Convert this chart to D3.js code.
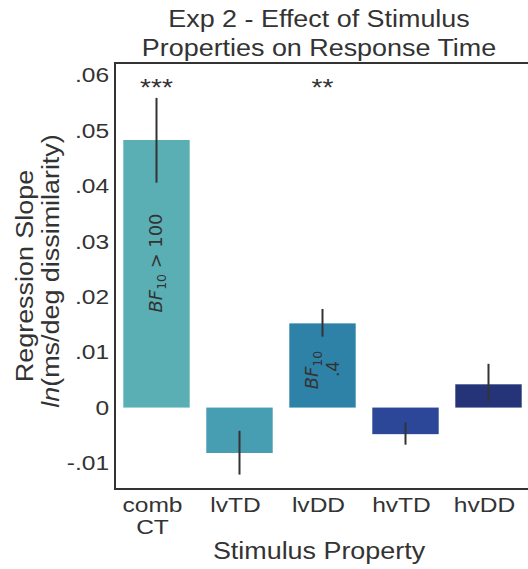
<!DOCTYPE html>
<html>
<head>
<meta charset="utf-8">
<script src="https://cdn.jsdelivr.net/npm/d3@7"></script>
<style>
  html, body { margin: 0; padding: 0; background: #fff; }
  svg { display: block; font-family: "Liberation Sans", Arial, sans-serif; }
</style>
</head>
<body>
<svg id="chart" width="528" height="569"></svg>
<script>
// ---- data ----
const categories = ["comb CT", "lvTD", "lvDD", "hvTD", "hvDD"];
const slopes = [0.0483, -0.0082, 0.0152, -0.0048, 0.0042];
const errTop = [0.0559, -0.0042, 0.0178, -0.0027, 0.0079];
const errBottom = [0.0406, -0.0121, 0.0128, -0.0067, 0.0011];
const barColors = ["#5aafb5", "#479db2", "#2e82a8", "#2c4797", "#253479"];
const significance = ["***", "", "**", "", ""];
const yTicks = [-0.01, 0, 0.01, 0.02, 0.03, 0.04, 0.05, 0.06];
const yTickLabels = ["-.01", "0", ".01", ".02", ".03", ".04", ".05", ".06"];

const svg = d3.select("#chart");
const mLeft = 115, mRight = 530, mTop = 63, mBottom = 489;
const ink = "#333";
const SX = 1.17; // horizontal stretch of the reference's lettering

function hText(parent, x0, y0, size, anchor) {
  return parent.append("text")
    .attr("transform", `translate(${x0},${y0}) scale(${SX},1)`)
    .attr("text-anchor", anchor || "middle")
    .attr("font-size", size)
    .attr("fill", ink);
}

const x = d3.scaleBand().domain(categories).range([mLeft, mRight]).paddingInner(0.2).paddingOuter(0.1);
const y = d3.scaleLinear().domain([-0.0147, 0.0622]).range([mBottom, mTop]);

// bars
svg.append("g").selectAll("rect").data(categories).join("rect")
  .attr("x", d => x(d))
  .attr("width", x.bandwidth())
  .attr("y", (d, i) => y(Math.max(0, slopes[i])))
  .attr("height", (d, i) => Math.abs(y(slopes[i]) - y(0)))
  .attr("fill", (d, i) => barColors[i]);

// error bars
svg.append("g").selectAll("line").data(categories).join("line")
  .attr("x1", d => x(d) + x.bandwidth() / 2)
  .attr("x2", d => x(d) + x.bandwidth() / 2)
  .attr("y1", (d, i) => y(errTop[i]))
  .attr("y2", (d, i) => y(errBottom[i]))
  .attr("stroke", ink).attr("stroke-width", 2);

// significance stars
const sg = svg.append("g");
categories.forEach((c, i) => {
  if (significance[i]) hText(sg, x(c) + x.bandwidth() / 2, 96, 24).text(significance[i]);
});

// y axis
const yAxis = d3.axisLeft(y).tickValues(yTicks).tickSize(0).tickPadding(5)
  .tickFormat((d, i) => yTickLabels[i]);
const gy = svg.append("g").attr("transform", `translate(${mLeft},0)`).call(yAxis);
gy.select(".domain").remove();
gy.selectAll("text").attr("font-size", 21).attr("fill", ink)
  .attr("font-family", "Liberation Sans, Arial, sans-serif")
  .attr("transform", `scale(${SX},1)`);

// frame
svg.append("path")
  .attr("d", `M${mRight},${mTop}H${mLeft}V${mBottom}H${mRight}`)
  .attr("fill", "none").attr("stroke", ink).attr("stroke-width", 2);

// x tick labels
const xl = svg.append("g");
categories.forEach(c => {
  const cx = x(c) + x.bandwidth() / 2 - 4;
  const t = hText(xl, cx, 512, 21);
  c.split(" ").forEach((part, j) => {
    t.append("tspan").attr("x", 0).attr("dy", j === 0 ? 0 : 22).text(part);
  });
});

// x axis title
hText(svg, 319, 559, 23).text("Stimulus Property");

// title
hText(svg, 319, 27, 23).text("Exp 2 - Effect of Stimulus");
hText(svg, 319, 56, 23).text("Properties on Response Time");

// y axis title
svg.append("text").attr("transform", `translate(33,276) rotate(-90) scale(${SX},1)`)
  .attr("text-anchor", "middle").attr("font-size", 23).attr("fill", ink).text("Regression Slope");
const yt2 = svg.append("text").attr("transform", `translate(59,271) rotate(-90) scale(${SX},1)`)
  .attr("text-anchor", "middle").attr("font-size", 23).attr("fill", ink);
yt2.append("tspan").attr("font-style", "italic").text("ln");
yt2.append("tspan").text("(ms/deg dissimilarity)");

// Bayes factor annotations
function bf(g, xc, yc, suffix, size) {
  const t = g.append("text").attr("transform", `translate(${xc},${yc}) rotate(-90) scale(1.05,1)`)
    .attr("text-anchor", "middle").attr("font-size", size).attr("fill", ink)
    .attr("font-family", "DejaVu Sans, sans-serif");
  t.append("tspan").attr("font-style", "italic").text("BF");
  t.append("tspan").attr("font-size", size * 0.7).attr("dy", 4).text("10");
  if (suffix) t.append("tspan").attr("dy", -4).text(suffix);
  return t;
}
const ann = svg.append("g");
const c0 = x(categories[0]) + x.bandwidth() / 2;
bf(ann, c0 + 5, 263, " > 100", 17);
const c2 = x(categories[2]) + x.bandwidth() / 2;
bf(ann, c2 - 5, 370, "", 17);
ann.append("text").attr("transform", `translate(${c2 + 16},369) rotate(-90)`)
  .attr("text-anchor", "middle").attr("font-size", 17).attr("fill", ink)
  .attr("font-family", "DejaVu Sans, sans-serif").text(".4");
</script>
</body>
</html>
